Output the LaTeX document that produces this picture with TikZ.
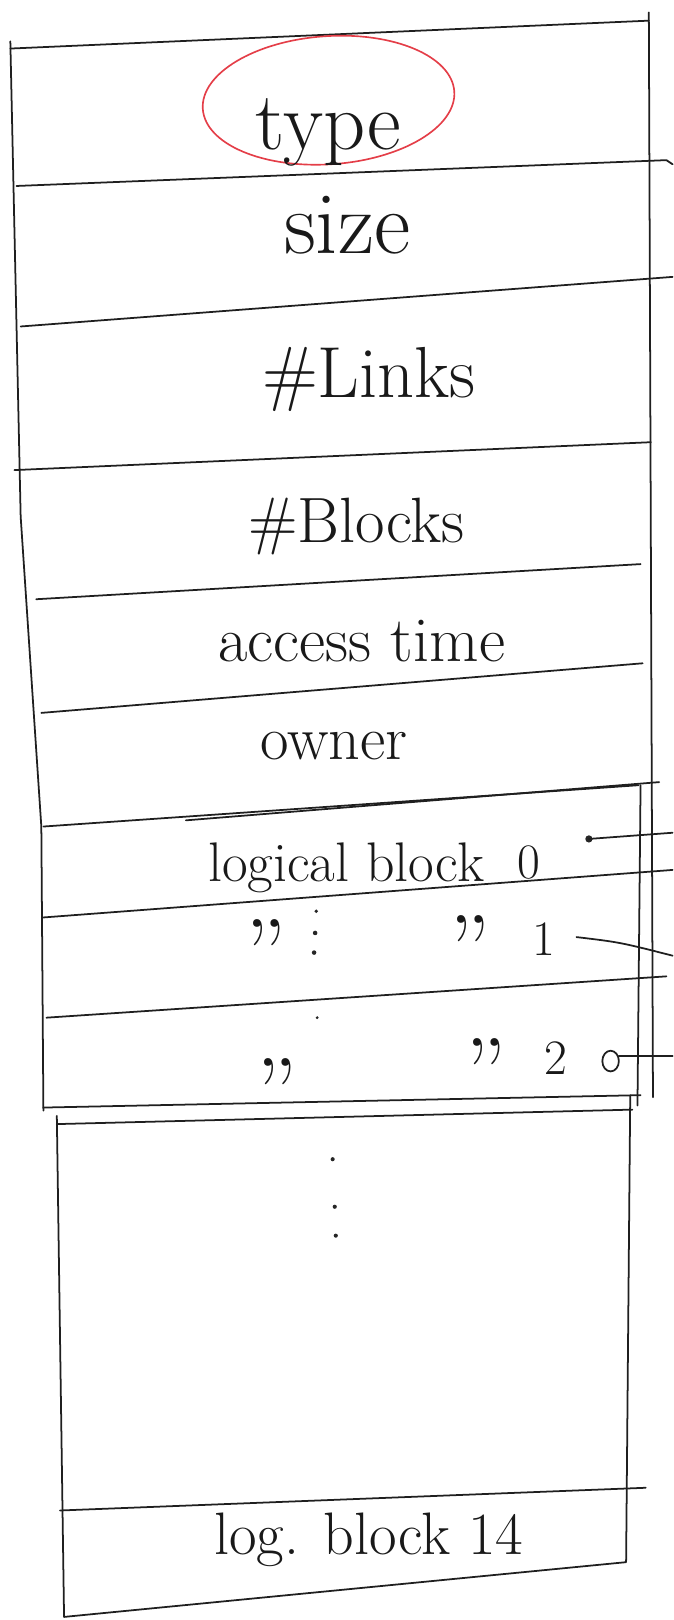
\documentclass[tikz,border=0pt]{standalone}
\usepackage{fontspec}
\begin{document}
\begin{tikzpicture}[x=1pt,y=-1pt,
  pen/.style={line width=1.7pt, line cap=round, line join=round, draw=black!88},
  lbl/.style={inner sep=0pt, anchor=base, text=black!90},
  dit/.style={inner sep=0pt, anchor=north, text=black!90, font=\fontsize{92}{96}\selectfont},
  dotm/.style={fill=black!85, draw=none}]
\useasboundingbox (0,0) rectangle (652,1568);

% upper box outline
\draw[pen] (10,40) -- (20,500) -- (40,800) -- (42,1075);
\draw[pen] (628,12) -- (632,1062);
\draw[pen] (620,760) -- (617,1070);
% field separators
\draw[pen] (10,47) -- (628,20);
\draw[pen] (16,180) -- (645,155) -- (651,159);
\draw[pen] (20,316) -- (651,268);
\draw[pen] (14,455) -- (630,428);
\draw[pen] (35,580) -- (620,546);
\draw[pen] (40,690) -- (622,642);
\draw[pen] (42,800) -- (618,760);
\draw[pen] (180,794) -- (638,757);
\draw[pen] (42,888) -- (651,842);
\draw[pen] (45,985) -- (645,945);
\draw[pen] (42,1072) -- (620,1060);

% lower box
\draw[pen] (55,1088) -- (612,1074);
\draw[pen] (55,1080) -- (62,1565) -- (606,1512) -- (610,1060);
\draw[pen] (58,1462) -- (625,1440);

% red ellipse
\draw[line width=1.6pt, draw={rgb,255:red,228;green,62;blue,72}, rotate around={4:(318,97)}] (318,97) ellipse [x radius=122, y radius=62];

% labels
\node[lbl, font=\fontsize{80}{84}\selectfont] (type) at (318,145) {type};
\node[lbl, font=\fontsize{86}{90}\selectfont] (size) at (336,245) {size};
\node[lbl, font=\fontsize{70}{74}\selectfont] (links) at (357,385) {\#Links};
\node[lbl, font=\fontsize{62}{66}\selectfont] (blocks) at (345,525) {\#Blocks};
\node[lbl, font=\fontsize{62}{66}\selectfont] (atime) at (350,640) {access time};
\node[lbl, font=\fontsize{60}{64}\selectfont] (owner) at (323,735) {owner};
\node[lbl, font=\fontsize{54}{58}\selectfont] (lb0) at (335,853) {logical block};
\node[lbl, font=\fontsize{48}{52}\selectfont] (n0) at (512,850) {0};

% row 1
\node[dit] (d1a) at (258,890) {”};
\fill[dotm] (306,882) circle (1.8) (305,903) circle (2.2) (304,922) circle (2.2);
\node[dit] (d1b) at (455,886) {”};
\node[lbl, font=\fontsize{48}{52}\selectfont] (n1) at (526,925) {1};

% row 2
\node[dit] (d2a) at (268,1024) {”};
\fill[dotm] (307,985) circle (1.5);
\node[dit] (d2b) at (470,1005) {”};
\node[lbl, font=\fontsize{48}{52}\selectfont] (n2) at (538,1040) {2};
\draw[pen] (591,1027) ellipse [x radius=8, y radius=10];
\coordinate (o2) at (599,1022);

% log block 14
\node[lbl, font=\fontsize{58}{62}\selectfont] (lb14) at (357,1505) {log. block 14};

% vertical ellipsis dots
\fill[dotm] (322,1122) circle (2) (324,1168) circle (2) (325,1196) circle (2);

% pointers
\coordinate (p0) at (570,812);
\coordinate (e0) at (651,806);
\coordinate (p1) at (558,907);
\coordinate (e1) at (651,925);
\coordinate (e2) at (651,1022);
\fill[dotm] (p0) circle (3.5);
\draw[pen] (p0) -- (e0);
\draw[pen] (p1) .. controls (600,912) .. (e1);
\draw[pen] (o2) -- (e2);
\end{tikzpicture}
\end{document}
